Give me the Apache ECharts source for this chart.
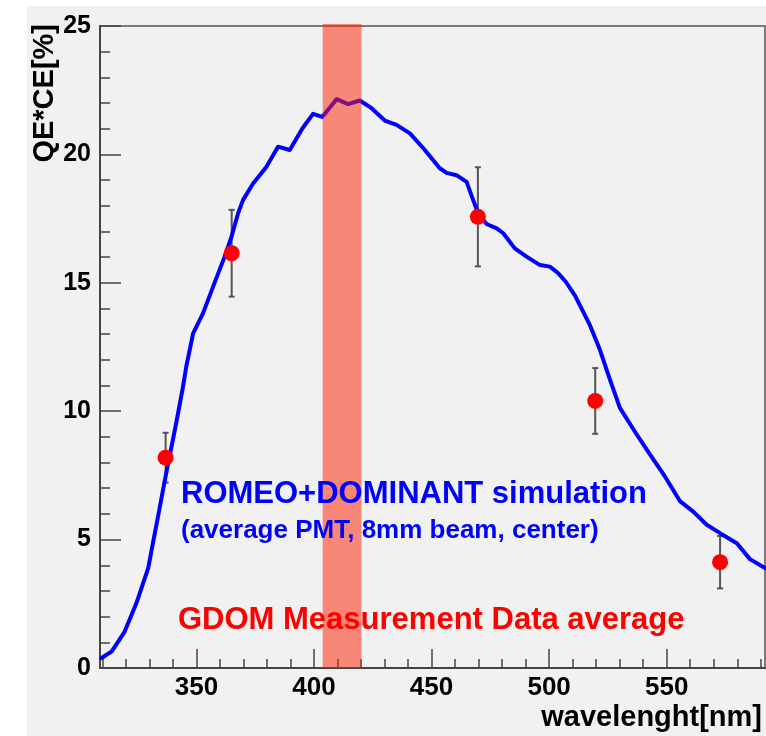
<!DOCTYPE html>
<html>
<head>
<meta charset="utf-8">
<script src="https://cdn.jsdelivr.net/npm/echarts@6.0.0/dist/echarts.min.js"></script>
<style>
html,body{margin:0;padding:0;background:#ffffff;}
#chart{width:766px;height:736px;}
</style>
</head>
<body>
<div id="chart"></div>
<script>
// Simulation curve (wavelength nm, QE*CE %)
const curveX = [309.5, 314, 319.5, 324.5, 329.5, 331.5, 333.7, 335.8, 337.7, 340, 342.2, 344.3, 345.7, 348.6,
  352.8, 357.1, 362, 364.9, 367.7, 369.8, 374.1, 379.8, 384.7, 389.7, 395, 399.6, 403.5, 409.6, 414.5, 419.5,
  424.5, 430.1, 435.1, 440.8, 446.6, 453.5, 456.4, 460.6, 464.9, 467.7, 469.8, 473.4, 477.7, 480.5, 485.4,
  490.4, 496.1, 500.3, 503.9, 507, 511, 517.3, 521.6, 525.9, 530.1, 536.5, 543, 549.3, 555.6, 561.3, 567,
  572.7, 579.8, 585.4, 591.8];
const curveY = [0.38, 0.65, 1.42, 2.53, 3.89, 4.86, 5.9, 6.94, 7.84, 8.88, 9.92, 10.96, 11.74, 13.03,
  13.81, 14.85, 16.02, 16.79, 17.7, 18.22, 18.87, 19.52, 20.3, 20.17, 21.0, 21.58, 21.46, 22.15, 21.96, 22.1,
  21.8, 21.32, 21.15, 20.82, 20.23, 19.46, 19.28, 19.19, 18.93, 18.22, 17.7, 17.29, 17.12, 16.93, 16.34,
  16.02, 15.69, 15.63, 15.37, 15.05, 14.5, 13.36, 12.39, 11.22, 10.13, 9.2, 8.3, 7.45, 6.5, 6.09, 5.58,
  5.25, 4.86, 4.24, 3.89];
// GDOM measurement points
const measX = [336.9, 365.0, 469.7, 519.6, 572.7];
const measY = [8.19, 16.15, 17.57, 10.4, 4.12];
const measErr = [0.97, 1.69, 1.93, 1.28, 1.02];
// Highlighted wavelength band
const band = [403.7, 420.2];
// Axis ticks
const xMajorTicks = [350, 400, 450, 500, 550];
const xMinorTicks = [310, 320, 330, 340, 360, 370, 380, 390, 410, 420, 430, 440, 460, 470, 480, 490, 510, 520, 530, 540, 560, 570, 580, 590];
const xRange = [309, 591.8];
const yRange = [0, 25];

const FONT = 'Liberation Sans';
const chart = echarts.init(document.getElementById('chart'), null, {renderer: 'canvas'});

const option = {
  animation: false,
  backgroundColor: '#ffffff',
  graphic: [
    {type: 'rect', z: -10, shape: {x: 27, y: 6, width: 739, height: 730}, style: {fill: '#f1f1f1'}, silent: true},
    {type: 'text', z: 50, x: 45, y: 24, rotation: Math.PI / 2,
      style: {text: 'QE*CE[%]', fill: '#000', font: 'bold 29px "Liberation Sans"', textAlign: 'right', textVerticalAlign: 'middle'}},
    {type: 'text', z: 50, x: 762, y: 718,
      style: {text: 'wavelenght[nm]', fill: '#000', font: 'bold 29px "Liberation Sans"', textAlign: 'right', textVerticalAlign: 'middle'}},
    {type: 'text', z: 50, x: 181, y: 494,
      style: {text: 'ROMEO+DOMINANT simulation', fill: '#0000ff', font: 'bold 31px "Liberation Sans"', textAlign: 'left', textVerticalAlign: 'middle'}},
    {type: 'text', z: 50, x: 181, y: 531,
      style: {text: '(average PMT, 8mm beam, center)', fill: '#0000ff', font: 'bold 26px "Liberation Sans"', textAlign: 'left', textVerticalAlign: 'middle'}},
    {type: 'text', z: 50, x: 178, y: 620,
      style: {text: 'GDOM Measurement Data average', fill: '#ff0000', font: 'bold 31px "Liberation Sans"', textAlign: 'left', textVerticalAlign: 'middle'}}
  ],
  grid: {
    left: 100, right: 1, top: 26, bottom: 68,
    show: true, backgroundColor: '#f1f1f1', borderColor: '#7a7a7a', borderWidth: 2
  },
  xAxis: [
    {
      type: 'value', min: xRange[0], max: xRange[1], position: 'bottom',
      axisLine: {show: true, onZero: false, lineStyle: {color: '#444', width: 2}},
      axisTick: {show: true, inside: true, length: 19, customValues: xMajorTicks, lineStyle: {color: '#444', width: 1.5}},
      axisLabel: {show: true, customValues: xMajorTicks, color: '#000', fontFamily: FONT, fontWeight: 'bold', fontSize: 26, margin: 7},
      splitLine: {show: false}
    },
    {
      type: 'value', min: xRange[0], max: xRange[1], position: 'bottom',
      axisLine: {show: false},
      axisTick: {show: true, inside: true, length: 9, customValues: xMinorTicks, lineStyle: {color: '#444', width: 1.5}},
      axisLabel: {show: false},
      splitLine: {show: false}
    }
  ],
  yAxis: {
    type: 'value', min: yRange[0], max: yRange[1], interval: 5,
    axisLine: {show: true, onZero: false, lineStyle: {color: '#444', width: 2}},
    axisTick: {show: true, inside: true, length: 21, lineStyle: {color: '#444', width: 1.5}},
    minorTick: {show: true, splitNumber: 5, length: 10, lineStyle: {color: '#444', width: 1.5}},
    axisLabel: {color: '#000', fontFamily: FONT, fontWeight: 'bold', fontSize: 25, margin: 9},
    splitLine: {show: false}
  },
  series: [
    {
      type: 'custom', z: 1, xAxisIndex: 0,
      data: measX.map((x, i) => [x, measY[i], measErr[i]]),
      renderItem: function (params, api) {
        const x = api.value(0), y = api.value(1), e = api.value(2);
        const t = api.coord([x, y + e]);
        const b = api.coord([x, y - e]);
        const st = {stroke: '#555', lineWidth: 2};
        return {type: 'group', children: [
          {type: 'line', shape: {x1: t[0], y1: t[1], x2: b[0], y2: b[1]}, style: st},
          {type: 'line', shape: {x1: t[0] - 3, y1: t[1], x2: t[0] + 3, y2: t[1]}, style: st},
          {type: 'line', shape: {x1: b[0] - 3, y1: b[1], x2: b[0] + 3, y2: b[1]}, style: st}
        ]};
      }
    },
    {
      type: 'line', z: 2, xAxisIndex: 0,
      data: curveX.map((x, i) => [x, curveY[i]]),
      showSymbol: false, symbol: 'none', smooth: false,
      lineStyle: {color: '#0000ff', width: 4, join: 'round', cap: 'round'}
    },
    {
      type: 'custom', z: 3, xAxisIndex: 0,
      data: [[band[0], band[1]]],
      renderItem: function (params, api) {
        const p0 = api.coord([api.value(0), yRange[1]]);
        const p1 = api.coord([api.value(1), yRange[0]]);
        return {type: 'rect', shape: {x: p0[0], y: p0[1] - 2, width: p1[0] - p0[0], height: p1[1] - p0[1] + 2},
          style: {fill: 'rgba(255,30,0,0.5)'}};
      }
    },
    {
      type: 'scatter', z: 4, xAxisIndex: 0,
      data: measX.map((x, i) => [x, measY[i]]),
      symbol: 'circle', symbolSize: 16,
      itemStyle: {color: '#ff0000', opacity: 1}
    }
  ]
};
chart.setOption(option);
</script>
</body>
</html>
